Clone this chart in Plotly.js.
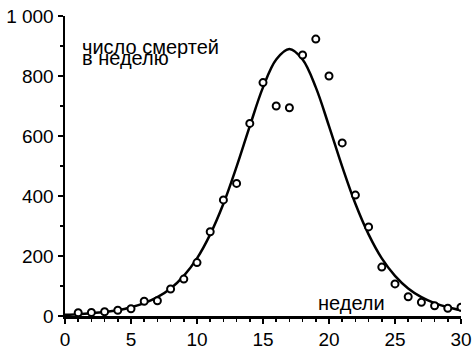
<!DOCTYPE html>
<html>
<head>
<meta charset="utf-8">
<script src="https://cdn.plot.ly/plotly-3.0.1.min.js"></script>
<style>html,body{margin:0;padding:0;background:#fff;}#chart{width:473px;height:347px;}</style>
</head>
<body>
<div id="chart"></div>
<script>
// observed weekly deaths
const weeks = [1,2,3,4,5,6,7,8,9,10,11,12,13,14,15,16,17,18,19,20,21,22,23,24,25,26,27,28,29,30];
const deaths = [11,12,14,19,24,49,51,90,123,178,281,387,442,642,778,700,694,870,923,800,577,403,297,163,107,64,46,34,26,29];
// fitted curve
const curveWeeks = [0,1,2,3,4,5,6,7,8,9,10,11,12,13,14,15,16,17,18,19,20,21,22,23,24,25,26,27,28,29,30];
const curveDeaths = [4,6,9,13,19,29,43,63,92,134,192,272,374,498,633,762,855,890,855,762,633,498,374,272,192,134,92,63,43,29,19];
// tick labels
const yTickVals = [0,200,400,600,800,1000];
const yTickText = ['0','200','400','600','800','1 000'];
const xTickVals = [0,5,10,15,20,25,30];
const yLabelLines = ['число смертей','в неделю'];
const xLabel = 'недели';

const font = 'Liberation Sans, Arial, sans-serif';
const traces = [
  {x: curveWeeks, y: curveDeaths, type: 'scatter', mode: 'lines',
   line: {color: '#000', width: 2.5, shape: 'spline', smoothing: 1}, hoverinfo: 'skip'},
  {x: weeks, y: deaths, type: 'scatter', mode: 'markers',
   marker: {symbol: 'circle', size: 7, color: '#fff', line: {color: '#000', width: 2}}}
];
const layout = {
  width: 473, height: 347,
  margin: {l: 65, r: 12, t: 16, b: 31},
  paper_bgcolor: '#fff', plot_bgcolor: '#fff',
  showlegend: false,
  font: {family: font, color: '#000', size: 19},
  xaxis: {range: [0, 30], showgrid: false, zeroline: false, showline: true, linewidth: 2.5, linecolor: '#000',
    ticks: 'outside', ticklen: 5, tickwidth: 2, tickcolor: '#000', tickvals: xTickVals, ticktext: xTickVals.map(String),
    minor: {dtick: 1, ticks: 'outside', ticklen: 3, tickwidth: 1.5, tickcolor: '#000'},
    tickfont: {size: 19, family: font}},
  yaxis: {range: [0, 1000], showgrid: false, zeroline: false, showline: true, linewidth: 2.5, linecolor: '#000',
    ticks: 'outside', ticklen: 5, tickwidth: 2, tickcolor: '#000', tickvals: yTickVals, ticktext: yTickText,
    minor: {dtick: 100, ticks: 'outside', ticklen: 3, tickwidth: 1.5, tickcolor: '#000'},
    tickfont: {size: 19, family: font}},
  annotations: [
    {x: 1.1, y: 897, xref: 'x', yref: 'y', text: yLabelLines[0], showarrow: false, xanchor: 'left', yanchor: 'middle', font: {size: 20, family: font}},
    {x: 1.1, y: 859, xref: 'x', yref: 'y', text: yLabelLines[1], showarrow: false, xanchor: 'left', yanchor: 'middle', font: {size: 20, family: font}},
    {x: 21.74, y: 45, xref: 'x', yref: 'y', text: xLabel, showarrow: false, xanchor: 'center', yanchor: 'middle', font: {size: 20, family: font}}
  ]
};
Plotly.newPlot('chart', traces, layout, {staticPlot: true});
</script>
</body>
</html>
